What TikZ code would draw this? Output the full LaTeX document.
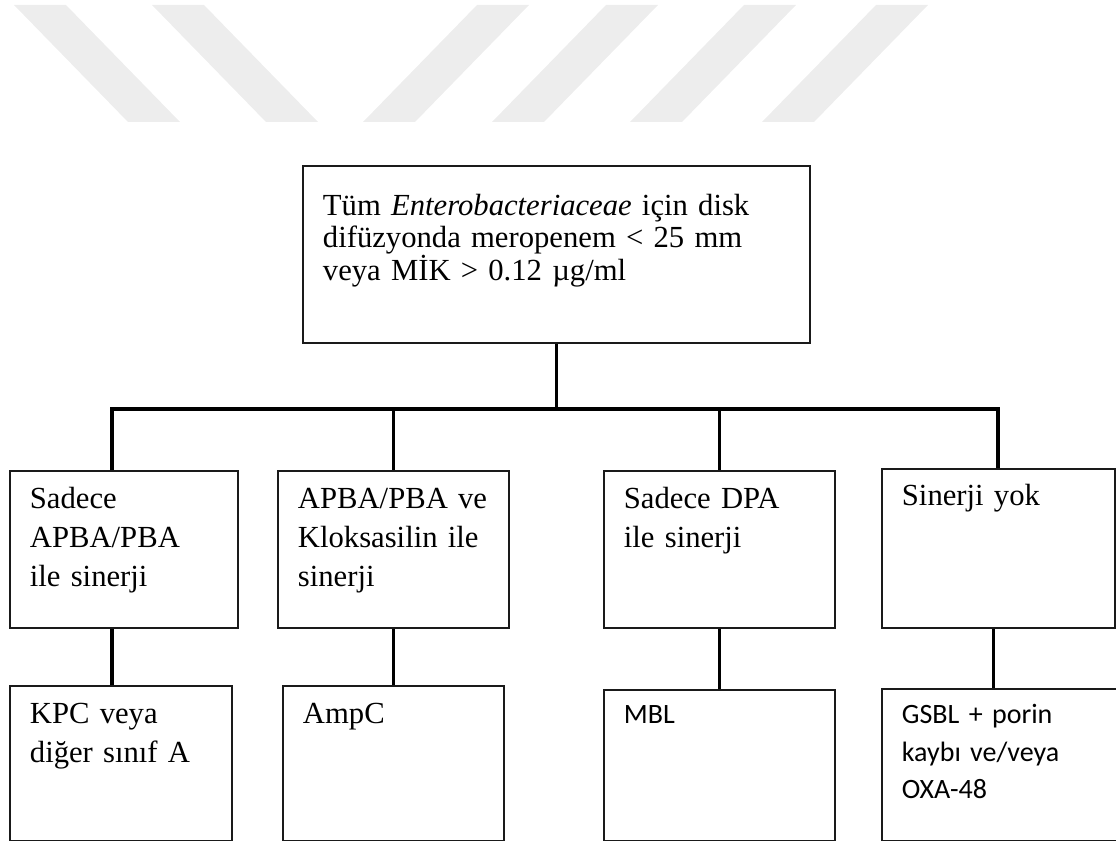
\documentclass[tikz,border=0pt]{standalone}
\usepackage{fontspec}
\setmainfont{Liberation Serif}
\newfontfamily\sansbody{Carlito}
\usetikzlibrary{positioning}
\definecolor{boxstroke}{HTML}{1A1A1A}
\definecolor{stripe}{HTML}{EDEDED}

\begin{document}
\begin{tikzpicture}[
    x=0.75pt, y=-0.75pt,
    box/.style={
        rectangle,
        draw=boxstroke,
        line width=1.4pt,
        anchor=north west,
        align=left,
        inner xsep=15pt,
        inner ysep=0pt,
        font=\fontsize{23}{29}\selectfont,
    },
    link/.style={
        black,
        line width=2.3pt,
        line join=miter,
    },
]

\useasboundingbox (0,0) rectangle (1116,841);
\clip (0,0) rectangle (1116,841);

% Watermark stripes
\foreach \a in {14,152}
    \fill[stripe] (\a,5) -- (\a+52,5) -- (\a+166,122) -- (\a+114,122) -- cycle;
\foreach \a in {477,606,744,876}
    \fill[stripe] (\a,5) -- (\a+52,5) -- (\a-62,122) -- (\a-114,122) -- cycle;

% Top box
\node[box, text width=350.25pt, text height=37.5pt, text depth=95.25pt,
      font=\fontsize{23}{23.6}\selectfont] (top) at (302,165)
    {Tüm \textit{Enterobacteriaceae} için disk\\
     difüzyonda meropenem < 25 mm\\
     veya MİK > 0.12 µg/ml};

% Synergy boxes
\node[box, text width=141pt, text height=28.5pt, text depth=89.25pt] (apba) at (9,470)
    {Sadece\\APBA/PBA\\ile sinerji};
\node[box, text width=143.25pt, text height=28.5pt, text depth=89.25pt] (klok) at (277,470)
    {APBA/PBA~ve\\Kloksasilin~ile\\sinerji};
\node[box, text width=143.25pt, text height=28.5pt, text depth=89.25pt] (dpa) at (603,470)
    {Sadece DPA\\ile sinerji};
\node[box, text width=144.75pt, text height=27.75pt, text depth=91.5pt] (yok) at (881,468)
    {Sinerji yok};

% Result boxes
\node[box, text width=136.5pt, text height=28.5pt, text depth=87.75pt] (kpc) at (9,685)
    {KPC veya\\diğer sınıf A};
\node[box, text width=135.75pt, text height=28.5pt, text depth=87.75pt] (ampc) at (282,685)
    {AmpC};
\node[box, text width=143.25pt, text height=25.5pt, text depth=87.75pt,
      font=\sansbody\fontsize{21}{28}\selectfont] (mbl) at (603,689)
    {MBL};
\node[box, text width=150pt, text height=26.25pt, text depth=87.75pt,
      font=\sansbody\fontsize{21}{28}\selectfont] (gsbl) at (881,688)
    {GSBL + porin\\kaybı ve/veya\\OXA-48};

% Bus line
\coordinate (busl) at (112,409);
\coordinate (busr) at (998,409);
\draw[link] (top.south) -- (top.south |- busl);
\draw[link] (busl |- apba.north) -- (busl) -- (busr) -- (busr |- yok.north);
\draw[link] (klok.north |- busl) -- (klok.north);
\draw[link] (dpa.north |- busl) -- (dpa.north);

% Down to results
\draw[link] (busl |- apba.south) -- (busl |- kpc.north);
\draw[link] (klok.south) -- (klok.south |- ampc.north);
\draw[link] (dpa.south) -- (dpa.south |- mbl.north);
\draw[link] ([xshift=-3.5pt]yok.south) -- ([xshift=-3.5pt]yok.south |- gsbl.north);

\end{tikzpicture}
\end{document}
